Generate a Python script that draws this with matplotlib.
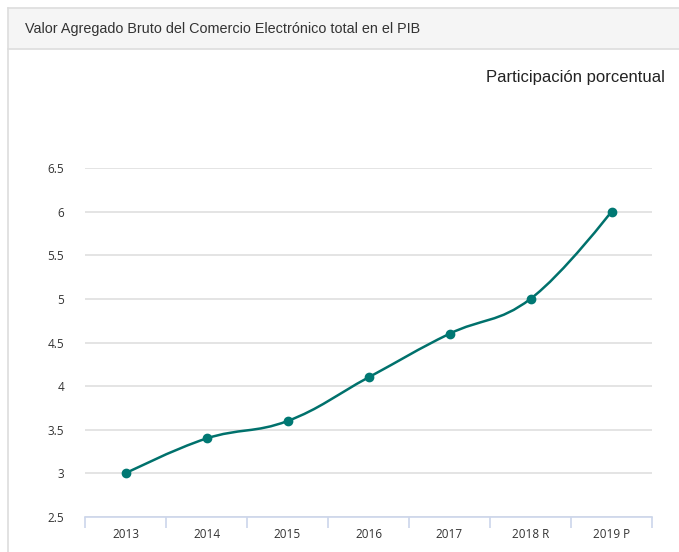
import matplotlib
matplotlib.use("Agg")
import matplotlib.pyplot as plt
from matplotlib.path import Path
from matplotlib.patches import PathPatch, Rectangle
from matplotlib.lines import Line2D
import numpy as np

categories = ["2013", "2014", "2015", "2016", "2017", "2018 R", "2019 P"]
values = [3.0, 3.4, 3.6, 4.1, 4.6, 5.0, 6.0]
yticks = [2.5, 3, 3.5, 4, 4.5, 5, 5.5, 6, 6.5]
title = "Valor Agregado Bruto del Comercio Electrónico total en el PIB"
series_name = "Participación porcentual"

W, H = 679, 552
fig = plt.figure(figsize=(W / 100, H / 100), dpi=100)
fig.patch.set_facecolor("white")

def fx(px):
    return px / W

def fy(py):
    return 1 - py / H

# card panel
fig.patches.append(Rectangle((fx(8), fy(49)), fx(700) - fx(8), fy(8) - fy(49),
                             transform=fig.transFigure, facecolor="#f5f5f5",
                             edgecolor="none", zorder=0))
for (x0, y0, x1, y1) in [(8, 8, 700, 8), (8, 49, 700, 49), (8, 8, 8, 560)]:
    fig.add_artist(Line2D([fx(x0), fx(x1)], [fy(y0), fy(y1)], transform=fig.transFigure,
                          color="#dddddd", lw=1.2))
fig.text(fx(25), fy(29), title, fontsize=10.4, family="Liberation Sans",
         color="#333333", va="center", ha="left")

ax = fig.add_axes([fx(85), fy(517), fx(652) - fx(85), fy(168) - fy(517) + 0.0])
ax.set_ylim(2.5, 6.5)
ax.set_xlim(-0.5, len(categories) - 0.5)
for s in ["top", "right", "left"]:
    ax.spines[s].set_visible(False)
ax.spines["bottom"].set_color("#ccd6eb")
ax.spines["bottom"].set_linewidth(1.2)
ax.set_yticks(yticks)
ax.set_yticklabels([f"{v:g}" for v in yticks])
ax.yaxis.grid(True, color="#dcdcdc", lw=1.1)
ax.set_axisbelow(True)
ax.tick_params(axis="y", length=0, pad=15, labelsize=8.5, labelcolor="#333333")
ax.set_xticks(np.arange(len(categories)))
ax.set_xticklabels(categories)
ax.tick_params(axis="x", length=0, pad=8, labelsize=8.5, labelcolor="#333333")
ax.set_xticks(np.arange(-0.5, len(categories)), minor=True)
ax.tick_params(axis="x", which="minor", length=8, color="#ccd6eb", width=1.2, direction="out")
for lab in ax.get_xticklabels() + ax.get_yticklabels():
    lab.set_family("Open Sans")

# Highcharts-like spline
xs = np.arange(len(values), dtype=float)
ys = np.array(values, dtype=float)
sx, sy = 81.0, 87.3
px, py = xs * sx, ys * sy
sm = 1.5
den = sm + 1
lc, rc = [], []
for i in range(len(px)):
    if 0 < i < len(px) - 1:
        lx = (sm * px[i] + px[i - 1]) / den
        ly = (sm * py[i] + py[i - 1]) / den
        rx = (sm * px[i] + px[i + 1]) / den
        ry = (sm * py[i] + py[i + 1]) / den
        corr = ((ry - ly) * (rx - px[i])) / (rx - lx) + py[i] - ry
        ly += corr
        ry += corr
        if ly > max(py[i - 1], py[i]):
            ly = max(py[i - 1], py[i]); ry = 2 * py[i] - ly
        elif ly < min(py[i - 1], py[i]):
            ly = min(py[i - 1], py[i]); ry = 2 * py[i] - ly
        if ry > max(py[i + 1], py[i]):
            ry = max(py[i + 1], py[i]); ly = 2 * py[i] - ry
        elif ry < min(py[i + 1], py[i]):
            ry = min(py[i + 1], py[i]); ly = 2 * py[i] - ry
        lc.append((lx, ly)); rc.append((rx, ry))
    else:
        lc.append((px[i], py[i])); rc.append((px[i], py[i]))
verts = [(xs[0], ys[0])]
codes = [Path.MOVETO]
for i in range(1, len(px)):
    verts += [(rc[i - 1][0] / sx, rc[i - 1][1] / sy), (lc[i][0] / sx, lc[i][1] / sy), (xs[i], ys[i])]
    codes += [Path.CURVE4] * 3
color = "#00716c"
ax.add_patch(PathPatch(Path(verts, codes), facecolor="none", edgecolor=color, lw=1.8, zorder=3))
ax.plot(xs, ys, "o", color="#007873", ms=6, zorder=4, clip_on=False)

fig.text(fx(665), fy(77), series_name, fontsize=12, family="Liberation Sans",
         color="#222222", va="center", ha="right")

fig.savefig("out.png", dpi=100)
